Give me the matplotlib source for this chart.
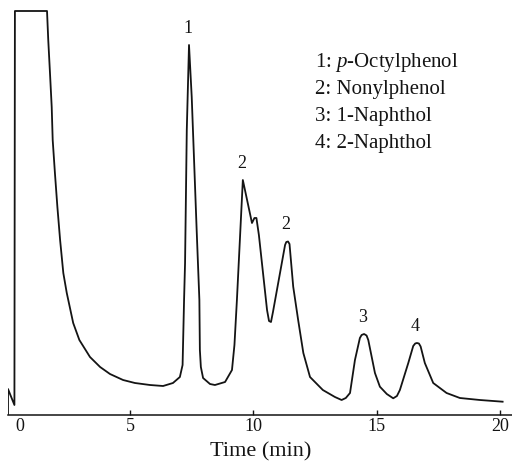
import matplotlib
matplotlib.use("Agg")
import matplotlib.pyplot as plt
from matplotlib import transforms
import numpy as np

plt.rcParams["font.family"] = ["Liberation Serif", "DejaVu Serif"]
plt.rcParams["mathtext.fontset"] = "custom"
plt.rcParams["mathtext.rm"] = "Liberation Serif"
plt.rcParams["mathtext.it"] = "Liberation Serif:italic"

# Recorder trace: retention time (min) and detector response (arbitrary units)
time_min = [
    0.06, 0.06, 0.32, 0.34, 1.64, 1.69, 1.76, 1.83, 1.87, 1.96, 2.06, 2.17,
    2.30, 2.44, 2.70, 2.95, 3.38, 3.79, 4.19, 4.72, 5.20, 5.81, 6.34, 6.74,
    7.02, 7.13, 7.19, 7.23, 7.30, 7.39, 7.50, 7.70, 7.81, 7.83, 7.87, 7.96,
    8.24, 8.44, 8.85, 9.13, 9.23, 9.33, 9.45, 9.57, 9.94, 10.04, 10.12, 10.22,
    10.55, 10.63, 10.71, 10.79, 11.28, 11.33, 11.40, 11.46, 11.61, 11.81,
    12.02, 12.29, 12.81, 13.30, 13.57, 13.74, 13.91, 14.11, 14.31, 14.38,
    14.48, 14.58, 14.65, 14.92, 15.12, 15.40, 15.66, 15.81, 15.93, 16.27,
    16.47, 16.55, 16.62, 16.70, 16.77, 16.94, 17.28, 17.82, 18.36, 19.17,
    20.09,
]
signal = [
    0.5, 25.5, 9.5, 403.5, 403.5, 374.5, 341.5, 307.5, 274.5, 241.5, 207.5, 174.5,
    141.5, 121.5, 91.5, 74.5, 57.5, 47.5, 40.5, 34.5, 31.5, 29.5, 28.5, 31.5,
    37.5, 49.5, 114.5, 151.5, 284.5, 369.5, 317.5, 184.5, 114.5, 64.5, 47.5, 36.5,
    30.5, 29.5, 32.5, 44.5, 69.5, 114.5, 174.5, 234.5, 191.5, 196.5, 196.5, 179.5,
    104.5, 93.5, 92.5, 102.5, 169.5, 172.5, 173.0, 170.5, 127.8, 94.5,
    61.5, 37.5, 24.5, 17.5, 14.5, 16.5, 21.5, 54.5, 76.5, 79.5,
    80.5, 79.0, 74.5, 41.5, 27.8, 20.5, 16.2, 18.5, 24.5, 51.5,
    68.5, 71.0, 71.5, 71.0, 68.0, 51.5, 31.5, 21.5, 16.5, 14.5,
    12.8,
]

# Peak numbering and approximate retention times
peak_labels = ["1", "2", "2", "3", "4"]
peak_times = [7.39, 9.57, 11.37, 14.48, 16.62]

compound_key = [
    "1: $\\mathit{p}$-Octylphenol",
    "2: Nonylphenol",
    "3: 1-Naphthol",
    "4: 2-Naphthol",
]

tick_values = [5, 10, 15, 20]

W, H = 512, 466
fig = plt.figure(figsize=(W / 100, H / 100), dpi=100)
ax = fig.add_axes([8 / W, (H - 414.5) / H, 1 - 8 / W, 414.5 / H])

ink = "#141414"
ax.plot(time_min, signal, color=ink, lw=1.3, solid_joinstyle="round")

ax.set_xlim(0.06, 20.47)
ax.set_ylim(0, 414.5)

for side in ("left", "right", "top"):
    ax.spines[side].set_visible(False)
ax.spines["bottom"].set_linewidth(1.1)
ax.spines["bottom"].set_color(ink)
ax.set_yticks([])
ax.set_xticks(tick_values)
ax.set_xticklabels([str(v) for v in tick_values])
ax.tick_params(axis="x", direction="in", length=3.5, width=1.0, pad=2.5,
               labelsize=13, colors=ink)

# "0" label printed slightly right of the origin, without a tick mark
zero_tf = transforms.offset_copy(ax.get_xaxis_transform(), fig=fig,
                                 x=13.5, y=0, units="dots")
ax.text(0, -0.0085, "0", transform=zero_tf, ha="center", va="top",
        fontsize=13, color=ink)

t_arr = np.array(time_min)
s_arr = np.array(signal)
for lab, pt in zip(peak_labels, peak_times):
    win = np.abs(t_arr - pt) <= 0.2
    apex = s_arr[win].max()
    ax.annotate(lab, xy=(pt, apex), xytext=(-1, 12), textcoords="offset points",
                ha="center", va="center", fontsize=13, color=ink)

for i, line in enumerate(compound_key):
    fig.text(315 / W, 1 - (62 + 27.3 * i) / H, line, ha="left", va="center",
             fontsize=15, color=ink)

fig.text(261 / W, 1 - 452 / H, "Time (min)", ha="center", va="center",
         fontsize=16, color=ink)

fig.savefig("out.png", dpi=100, facecolor="white")
